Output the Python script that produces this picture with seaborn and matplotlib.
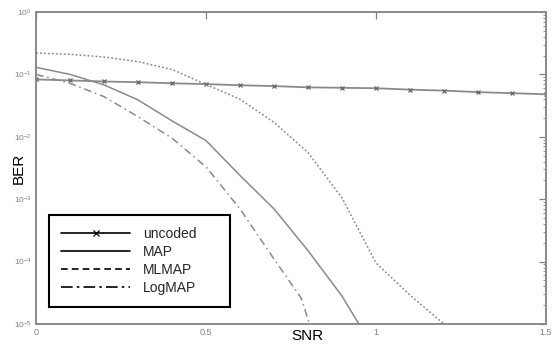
import numpy as np
import pandas as pd
import matplotlib
matplotlib.use("Agg")
import matplotlib.pyplot as plt
from matplotlib.lines import Line2D
from matplotlib.ticker import LogLocator, FixedLocator, FormatStrFormatter
import seaborn as sns

# BER vs SNR for the uncoded link and three decoders
snr_uncoded = [0.0, 0.1, 0.2, 0.3, 0.4, 0.5, 0.6, 0.7, 0.8, 0.9, 1.0, 1.1, 1.2, 1.3, 1.4, 1.5]
ber_uncoded = [0.083, 0.080, 0.077, 0.075, 0.072, 0.070, 0.067, 0.065, 0.062, 0.061,
               0.060, 0.057, 0.055, 0.052, 0.050, 0.048]

snr_map = [0.0, 0.1, 0.2, 0.3, 0.4, 0.5, 0.6, 0.7, 0.8, 0.9, 1.0]
ber_map = [0.13, 0.10, 0.068, 0.039, 0.018, 0.0087, 0.0024, 7.0e-4, 1.5e-4, 2.8e-5, 3.5e-6]

snr_mlmap = [0.0, 0.1, 0.2, 0.3, 0.4, 0.5, 0.6, 0.7, 0.8, 0.9, 1.0, 1.1, 1.2]
ber_mlmap = [0.22, 0.21, 0.19, 0.16, 0.12, 0.069, 0.040, 0.017, 0.0056, 1.05e-3,
             9.5e-5, 2.9e-5, 1.0e-5]

snr_logmap = [0.0, 0.1, 0.2, 0.3, 0.4, 0.5, 0.6, 0.7, 0.78, 0.81]
ber_logmap = [0.10, 0.072, 0.044, 0.021, 0.0095, 0.0033, 7.0e-4, 1.1e-4, 2.6e-5, 8.0e-6]

labels = ["uncoded", "MAP", "MLMAP", "LogMAP"]

sns.set_theme(style="white")
plt.rcParams["font.family"] = ["Liberation Sans", "DejaVu Sans"]
plt.rcParams["mathtext.fontset"] = "custom"
plt.rcParams["mathtext.rm"] = "Liberation Sans"

fig = plt.figure(figsize=(5.52, 3.48), dpi=100)
ax = fig.add_axes([36 / 552, 1 - 324 / 348, 510 / 552, 312 / 348])

gray = "#8a8a8a"
sns.lineplot(x=snr_uncoded, y=ber_uncoded, ax=ax, color=gray, lw=1.3,
             marker="x", markersize=3, markeredgewidth=0.9, markeredgecolor="#666666",
             legend=False, sort=False)
sns.lineplot(x=snr_map, y=ber_map, ax=ax, color=gray, lw=1.1, legend=False, sort=False)
sns.lineplot(x=snr_mlmap, y=ber_mlmap, ax=ax, color=gray, lw=1.1, legend=False,
             sort=False, linestyle=(0, (1.2, 1.4)))
sns.lineplot(x=snr_logmap, y=ber_logmap, ax=ax, color=gray, lw=1.1, legend=False,
             sort=False, linestyle=(0, (5, 2.5, 1, 2.5)))

ax.set_yscale("log")
ax.set_xlim(0, 1.5)
ax.set_ylim(1e-5, 1)

ax.xaxis.set_major_locator(FixedLocator([0, 0.5, 1, 1.5]))
ax.xaxis.set_major_formatter(FormatStrFormatter("%g"))
ax.yaxis.set_major_locator(LogLocator(base=10, numticks=10))
ax.yaxis.set_minor_locator(LogLocator(base=10, subs=np.arange(2, 10), numticks=10))
ax.yaxis.set_minor_formatter(plt.NullFormatter())

ax.tick_params(axis="both", which="both", direction="in", colors="#808080",
               top=True, right=True, labelsize=6.5, pad=3)
ax.tick_params(axis="both", which="major", length=5, width=0.9)
ax.tick_params(axis="y", which="minor", length=2.5, width=0.6)
ax.tick_params(axis="y", labelsize=6)

for sp in ax.spines.values():
    sp.set_color("#8a8a8a")
    sp.set_linewidth(1.4)

ax.set_xlabel("SNR", fontsize=11, color="black", labelpad=0)
ax.set_ylabel("BER", fontsize=11, color="black", labelpad=2)
ax.xaxis.set_label_coords(0.533, -0.016)
ax.yaxis.set_label_coords(-0.021, 0.5)

handles = [
    Line2D([], [], color="black", lw=1.2, marker="x", markersize=5, markeredgewidth=0.9),
    Line2D([], [], color="black", lw=1.2),
    Line2D([], [], color="black", lw=1.2, linestyle=(0, (4, 2.5))),
    Line2D([], [], color="black", lw=1.2, linestyle=(0, (7, 2.5, 1.5, 2.5))),
]
leg = ax.legend(handles, labels, loc="lower left",
                bbox_to_anchor=(13 / 510, 17 / 312, 181 / 510, 0.3), mode="expand",
                fontsize=10, handlelength=5.0, handletextpad=0.9, labelspacing=0.3,
                borderpad=0.85, borderaxespad=0, frameon=True, fancybox=False,
                framealpha=1)
leg.get_frame().set_edgecolor("black")
leg.get_frame().set_linewidth(1.5)

fig.savefig("out.png", dpi=100)
